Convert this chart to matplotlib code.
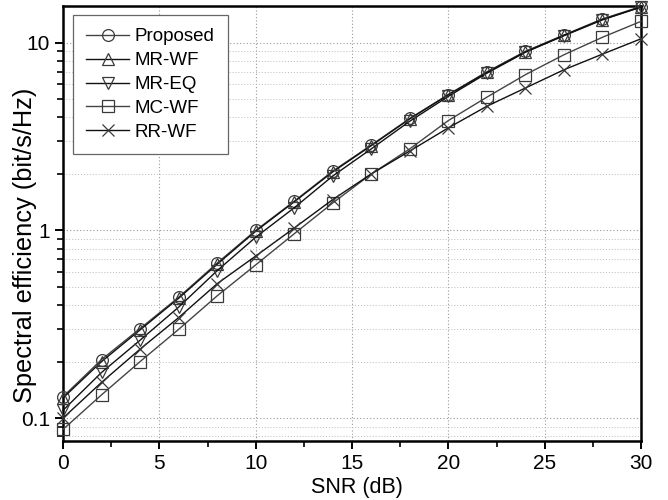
import matplotlib
matplotlib.use("Agg")
import matplotlib.pyplot as plt
from matplotlib.ticker import FixedLocator, FixedFormatter, LogLocator, MultipleLocator, NullFormatter

plt.rcParams['font.family'] = ['Liberation Sans', 'DejaVu Sans']

snr = [0, 2, 4, 6, 8, 10, 12, 14, 16, 18, 20, 22, 24, 26, 28, 30]
proposed = [0.13, 0.205, 0.30, 0.44, 0.67, 1.0, 1.43, 2.07, 2.85, 3.95, 5.3, 7.0, 9.0, 11.0, 13.4, 15.6]
mr_wf = [0.128, 0.20, 0.295, 0.435, 0.66, 0.99, 1.42, 2.05, 2.83, 3.93, 5.28, 6.95, 8.95, 10.95, 13.3, 15.5]
mr_eq = [0.11, 0.175, 0.26, 0.39, 0.61, 0.92, 1.32, 1.95, 2.72, 3.82, 5.18, 6.88, 8.9, 10.9, 13.25, 15.5]
mc_wf = [0.087, 0.133, 0.2, 0.297, 0.448, 0.655, 0.96, 1.40, 2.0, 2.72, 3.85, 5.13, 6.76, 8.63, 10.7, 13.0]
rr_wf = [0.10, 0.155, 0.233, 0.343, 0.52, 0.73, 1.03, 1.46, 2.0, 2.65, 3.52, 4.59, 5.74, 7.18, 8.7, 10.5]

series = [
    ("Proposed", proposed, "o", "#444444"),
    ("MR-WF", mr_wf, "^", "#111111"),
    ("MR-EQ", mr_eq, "v", "#111111"),
    ("MC-WF", mc_wf, "s", "#444444"),
    ("RR-WF", rr_wf, "x", "#111111"),
]

fig = plt.figure(figsize=(6.68, 5), dpi=100)
ax = fig.add_axes([63 / 668, 59 / 500, 578 / 668, 435 / 500])

for name, vals, mk, col in series:
    ax.plot(snr, vals, color=col, lw=1.0, marker=mk, markersize=8.5,
            markerfacecolor="none", markeredgecolor="#3a3a3a", markeredgewidth=0.9,
            label=name, clip_on=False, zorder=3)

ax.set_yscale("log")
ax.set_xlim(0, 30)
ax.set_ylim(0.0755, 15.7)
ax.xaxis.set_major_locator(MultipleLocator(5))
ax.xaxis.set_minor_locator(MultipleLocator(2.5))
ax.yaxis.set_major_locator(FixedLocator([0.1, 1, 10]))
ax.yaxis.set_major_formatter(FixedFormatter(["0.1", "1", "10"]))
ax.yaxis.set_minor_locator(LogLocator(base=10, subs=range(2, 10)))
ax.yaxis.set_minor_formatter(NullFormatter())

ax.tick_params(which="major", direction="out", length=6, width=1.4, labelsize=15)
ax.tick_params(which="minor", direction="out", length=4, width=1.2)
for sp in ax.spines.values():
    sp.set_linewidth(1.8)

ax.grid(True, which="major", axis="both", color="#999999", ls=(0, (1, 2)), lw=0.8)
ax.grid(True, which="minor", axis="y", color="#bbbbbb", ls=(0, (1, 2)), lw=0.7)

ax.set_xlabel("SNR (dB)", fontsize=15.5, va="center")
ax.set_ylabel("Spectral efficiency (bit/s/Hz)", fontsize=18.3, va="center")
ax.xaxis.set_label_coords(0.508, -46 / 435)
ax.yaxis.set_label_coords(-38 / 578, 0.449)

leg = ax.legend(loc="upper left", bbox_to_anchor=(0.017, 0.979), fontsize=13.5,
                fancybox=False, framealpha=1, edgecolor="#666666",
                handlelength=2.3, handletextpad=0.3, labelspacing=0.36,
                borderpad=0.7, borderaxespad=0)
leg.get_frame().set_linewidth(0.9)

fig.savefig("out.png", dpi=100)
